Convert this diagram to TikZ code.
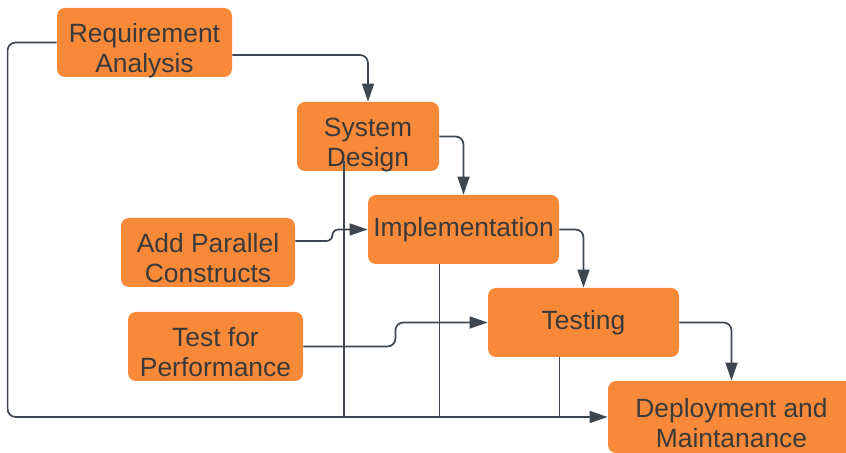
\documentclass[tikz,border=0pt]{standalone}
\usepackage{fontspec}
\setmainfont{Liberation Sans}
\usepackage{tikz}
\usetikzlibrary{positioning,arrows.meta,calc}
\definecolor{boxorange}{RGB}{247,137,56}
\definecolor{inkgray}{RGB}{58,58,58}
\definecolor{wire}{RGB}{62,70,82}

\begin{document}
\begin{tikzpicture}[
  x=0.5pt, y=-0.5pt,
  stage/.style={rectangle, fill=boxorange, rounded corners=4pt, inner sep=0pt, minimum height=34.5pt, text=inkgray, align=center, font=\fontsize{13.2}{15}\selectfont},
  twoline/.style={stage, text height=30.5pt, text depth=0pt},
  line/.style={draw=wire, line width=0.85pt, rounded corners=4pt},
  arr/.style={line, -{Triangle[length=9pt, width=6pt]}},
]
\useasboundingbox (0,0) rectangle (846,453);
\clip (0,0) rectangle (846,453);

\node[twoline, minimum width=87.5pt] (req) at (144.5,42.5) {Requirement\\Analysis};
\node[twoline, minimum width=71pt] (sd) at (368,136.5) {System\\Design};
\node[stage, minimum width=95.5pt] (impl) at (463.5,229.5) {Implementation};
\node[stage, minimum width=95.5pt] (test) at (583.5,322.5) {Testing};
\node[twoline, minimum width=123.5pt, minimum height=36pt] (dep) at (731.5,417) {Deployment and\\Maintanance};

\node[twoline, minimum width=87pt] (apc) at (208,252.5) {Add Parallel\\Constructs};
\node[twoline, minimum width=87.5pt] (tfp) at (215.5,346.5) {Test for\\Performance};

\draw[arr] ([yshift=-6.25pt]req.east) -| (sd.north);
\draw[arr] (sd.east) -| (impl.north);
\draw[arr] (impl.east) -| (test.north);
\draw[arr] (test.east) -| (dep.north);

\draw[arr, rounded corners=3pt] ([yshift=5.75pt]apc.east) -- ++(37,0) |- (impl.west);
\draw[arr] (tfp.east) -- ++(92,0) |- (test.west);

\draw[arr] (req.west) -- ++(-49,0) |- (dep.west);
\foreach \n/\s in {sd/5pt, impl/0pt, test/0pt}
  \draw[line] ([xshift=-12pt, yshift=\s]\n.south) -- ([xshift=-12pt]\n.south |- dep.west);
\end{tikzpicture}
\end{document}
